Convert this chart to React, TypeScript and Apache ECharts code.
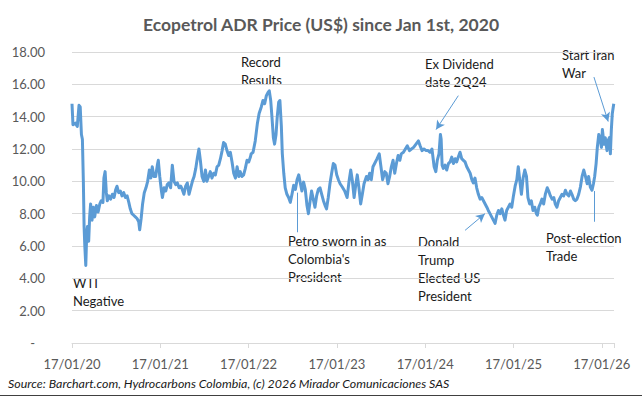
import { useEffect, useRef } from 'react';
import * as echarts from 'echarts';

// Days since 17 Jan 2020
const dayOffsets = [
  0, 4, 14, 22, 29, 34, 39, 43, 47, 50, 53, 57, 61, 64, 69, 73, 77, 83, 88, 94, 101, 108, 115, 121, 128, 132, 137, 142, 146, 153,
  160, 167, 174, 181, 186, 193, 200, 207, 214, 221, 228, 235, 241, 248, 255, 262, 269, 276, 280, 286, 292, 299, 306, 313, 320, 326,
  332, 339, 346, 353, 357, 363, 370, 374,
  381, 388, 394, 401, 408, 415, 422, 429, 436, 443, 450, 456, 463, 470, 477, 484, 491, 498, 505, 512, 518, 525, 531, 538, 545, 552,
  558, 565, 572, 579, 586, 593, 600, 607, 614, 621, 627, 634, 641, 648, 655, 662, 669, 676, 683, 690, 696, 703, 710, 717, 724, 731, 738,
  741, 749, 758, 767, 774, 783, 790, 797, 804, 811, 816, 822, 827, 833, 838, 844, 849, 855, 860, 866, 870, 876, 882, 889, 896, 903,
  910, 917, 924, 931, 938, 945, 951, 958, 965, 972, 978, 985, 991, 998, 1005, 1012, 1019, 1026, 1033, 1040, 1047, 1053, 1060, 1067,
  1074, 1081, 1088, 1095, 1102, 1109, 1118,
  1128, 1138, 1146, 1153, 1160, 1167, 1174, 1180, 1187, 1194, 1201, 1208, 1218, 1225, 1231, 1238, 1245, 1252, 1262, 1271, 1278, 1285,
  1294, 1300, 1307, 1314, 1321, 1328, 1335, 1342, 1349, 1356, 1362, 1371, 1379, 1387, 1396, 1404, 1413, 1423, 1433, 1440, 1448, 1456,
  1465, 1473,
  1481, 1489, 1498, 1505, 1511, 1518, 1524, 1527, 1531, 1536, 1543, 1550, 1557, 1564, 1571, 1578, 1585, 1591, 1598, 1605, 1612, 1619,
  1626, 1633, 1640, 1647, 1654, 1660, 1667, 1674, 1681, 1688, 1695, 1702, 1709, 1716, 1722, 1729, 1736, 1743, 1750, 1757, 1764, 1771,
  1778, 1785, 1791, 1798, 1805, 1812, 1819, 1826, 1833, 1840, 1846, 1852, 1859,
  1866, 1873, 1880, 1886, 1893, 1900, 1907, 1914, 1921, 1925, 1931, 1937, 1944, 1951, 1958, 1966, 1972, 1979, 1986, 1993, 1999, 2006,
  2013, 2020, 2027, 2034, 2041, 2048, 2055, 2062, 2068, 2075, 2082, 2089, 2096, 2103, 2110, 2117, 2124, 2131, 2137, 2144, 2151, 2157,
  2162, 2168, 2173, 2179, 2186, 2190, 2194, 2201, 2206, 2213, 2217, 2223, 2227, 2231, 2235, 2241,
];

const prices = [
  14.8, 13.5, 13.6, 13.4, 14.7, 14.6, 12.9, 12.6, 10.0, 7.2, 6.0, 4.8, 6.8, 7.2, 6.3, 7.8, 8.6, 7.6, 8.4, 7.8, 8.5, 8.1, 8.6, 8.8, 8.7, 10.2, 10.6, 9.3, 8.8, 9.1,
  8.9, 9.2, 9.0, 9.5, 9.7, 9.3, 9.4, 9.1, 9.3, 9.0, 9.1, 8.7, 8.3, 8.0, 7.9, 7.8, 7.7, 7.5, 7.0, 7.7, 8.6, 9.3, 9.6, 10.0, 10.7, 10.2,
  10.9, 10.3, 10.3, 11.0, 11.3, 10.3, 9.4, 9.0,
  9.6, 9.4, 9.8, 9.9, 9.6, 11.0, 10.0, 9.8, 9.9, 9.6, 9.7, 9.5, 9.2, 9.7, 9.9, 9.2, 9.6, 10.0, 10.3, 10.8, 11.4, 12.0, 11.3, 10.3, 10.0, 10.7,
  10.0, 10.3, 10.6, 10.2, 10.5, 10.4, 10.9, 11.0, 11.4, 11.9, 12.4, 12.3, 11.9, 11.6, 11.8, 11.2, 10.5, 10.2, 10.9, 10.3, 10.6, 10.3, 10.4, 10.8, 11.3, 11.2, 11.5,
  11.7, 11.8, 12.5, 13.6, 14.2, 14.6, 15.0, 14.8, 15.3, 15.5, 15.6, 15.0, 14.0, 12.7, 12.3, 12.9, 14.0, 14.9, 15.0, 13.4, 11.7, 10.5, 9.6, 9.2, 9.0, 8.7,
  9.2, 9.75, 9.5, 10.1, 10.4, 9.85, 9.4, 9.95, 9.5, 8.5, 8.0, 8.8, 9.4, 8.9, 8.4, 9.1, 9.5, 9.6, 9.2, 8.8, 8.5, 8.3, 9.0, 9.85,
  10.5, 11.1, 11.0, 10.4, 10.1, 9.85, 9.65,
  9.4, 9.0, 10.0, 10.7, 10.0, 9.0, 9.8, 10.4, 9.6, 8.6, 9.2, 9.85, 10.3, 10.1, 10.5, 10.1, 10.9, 11.1, 11.4, 11.7, 10.9, 10.1,
  10.6, 10.5, 9.85, 10.3, 10.9, 11.3, 10.5, 11.1, 11.6, 11.3, 11.7, 11.8, 12.0, 12.2, 11.9, 12.0, 12.1, 12.3, 12.5, 12.2, 11.9, 12.0,
  11.9, 11.9,
  11.8, 12.0, 10.9, 10.6, 11.3, 11.7, 12.9, 12.6, 11.0, 10.8, 11.0, 10.7, 11.1, 11.2, 11.5, 11.1, 11.4, 11.2, 11.5, 11.8, 11.4, 11.3,
  11.2, 10.9, 10.7, 10.5, 10.1, 9.9, 10.2, 9.6, 9.2, 8.9, 9.0, 8.8, 8.6, 8.4, 8.2, 8.0, 7.8, 7.6, 7.4, 7.9, 8.2, 8.0,
  8.3, 7.9, 7.6, 8.2, 8.4, 8.6, 8.4, 9.1, 9.7, 10.1, 10.9, 10.1, 9.2,
  10.2, 10.7, 10.3, 9.0, 8.6, 8.8, 8.2, 8.4, 8.0, 7.9, 8.4, 8.6, 8.9, 8.6, 9.2, 9.6, 9.4, 9.1, 8.9, 9.0, 8.6, 8.4,
  8.8, 9.0, 9.2, 9.1, 9.45, 9.2, 9.1, 9.4, 9.2, 8.9, 8.8, 8.9, 9.2, 9.65, 10.3, 10.7, 10.3, 9.85, 10.3, 9.65, 9.45, 9.85,
  10.3, 11.1, 12.1, 12.9, 12.5, 12.1, 13.2, 12.3, 12.7, 11.9, 12.5, 12.7, 11.7, 13.2, 14.2, 14.8,
];

const xTickLabels = ['17/01/20', '17/01/21', '17/01/22', '17/01/23', '17/01/24', '17/01/25', '17/01/26'];
const yearDays = 365.25;

const titleText = 'Ecopetrol ADR Price (US$) since Jan 1st, 2020';
const sourceText = 'Source: Barchart.com, Hydrocarbons Colombia, (c) 2026 Mirador Comunicaciones SAS';

const annotations = [
  { text: 'WTI\nNegative', left: 73, top: 274 },
  { text: 'Record\nResults', left: 241, top: 53 },
  { text: "Petro sworn in as\nColombia's\nPresident", left: 288, top: 232 },
  { text: 'Ex Dividend\ndate 2Q24', left: 425, top: 55 },
  { text: 'Donald\nTrump\nElected US\nPresident', left: 418, top: 233 },
  { text: 'Post-election\nTrade', left: 546, top: 229 },
  { text: 'Start Iran\nWar', left: 562, top: 46 },
];

// [fromDay, fromValue, toDay, toValue, arrow]
const pointers: [number, number, number, number, boolean][] = [
  [932, 9.3, 932, 6.85, false],
  [1598, 15.3, 1506, 13.2, true],
  [1626, 6.97, 1708, 8.0, true],
  [2160, 9.4, 2160, 7.5, false],
  [2159, 16.45, 2218, 13.7, true],
];

const FONT = 'Lato, "Open Sans", sans-serif';

export default function App() {
  const ref = useRef<HTMLDivElement>(null);
  useEffect(() => {
    const chart = echarts.init(ref.current!, null, { renderer: 'svg' });
    const data = dayOffsets.map((d, i) => [d, prices[i]]);
    chart.setOption({
      animation: false,
      backgroundColor: '#ffffff',
      textStyle: { fontFamily: FONT },
      title: {
        text: titleText,
        left: 'center',
        top: 10,
        textStyle: { fontFamily: FONT, fontSize: 17.5, fontWeight: 'bold', color: '#595959' },
      },
      grid: { left: 72, right: 28, top: 52, bottom: 54 },
      xAxis: {
        type: 'value',
        min: 0,
        max: 2242,
        interval: yearDays,
        axisLine: { show: true, lineStyle: { color: '#D9D9D9', width: 1 } },
        axisTick: { show: true, length: 5, lineStyle: { color: '#D9D9D9' } },
        splitLine: { show: false },
        axisLabel: {
          margin: 14,
          fontFamily: FONT,
          fontSize: 13,
          color: '#595959',
          formatter: (v: number) => {
            const idx = Math.round(v / yearDays);
            if (Math.abs(v - idx * yearDays) > 1) return '';
            return xTickLabels[idx] ?? '';
          },
        },
      },
      yAxis: {
        type: 'value',
        min: 0,
        max: 18,
        interval: 2,
        axisLine: { show: false },
        axisTick: { show: false },
        splitLine: { lineStyle: { color: '#D9D9D9', width: 1 } },
        axisLabel: {
          margin: 27,
          fontFamily: FONT,
          fontSize: 13,
          color: '#595959',
          formatter: (v: number) => (v === 0 ? '{z|-}' : v.toFixed(2)),
          rich: { z: { padding: [0, 10, 0, 0], fontFamily: FONT, fontSize: 13, color: '#595959' } },
        },
      },
      series: [
        {
          type: 'line',
          data,
          showSymbol: false,
          symbol: 'none',
          lineStyle: { color: '#5B9BD5', width: 3, join: 'round' },
          markLine: {
            silent: true,
            symbolSize: [7, 9],
            label: { show: false },
            lineStyle: { color: '#5B9BD5', width: 1, type: 'solid' },
            data: pointers.map(([d1, v1, d2, v2, arrow]) => [
              { coord: [d1, v1], symbol: 'none' },
              { coord: [d2, v2], symbol: arrow ? 'arrow' : 'none' },
            ]),
          },
        },
      ],
      graphic: [
        ...annotations.map((a) => ({
          type: 'text',
          left: a.left,
          top: a.top,
          style: { text: a.text, font: `13px ${FONT}`, fill: '#1a1a1a', lineHeight: 18 },
        })),
        {
          type: 'text',
          left: 8,
          top: 377,
          style: { text: sourceText, font: `italic 12.4px ${FONT}`, fill: '#1a1a1a' },
        },
        {
          type: 'line',
          shape: { x1: 0, y1: 395.5, x2: 642, y2: 395.5 },
          style: { stroke: '#404040', lineWidth: 1 },
        },
      ],
    });
    return () => chart.dispose();
  }, []);
  return <div ref={ref} style={{ position: 'absolute', left: 0, top: 0, width: 642, height: 397 }} />;
}
